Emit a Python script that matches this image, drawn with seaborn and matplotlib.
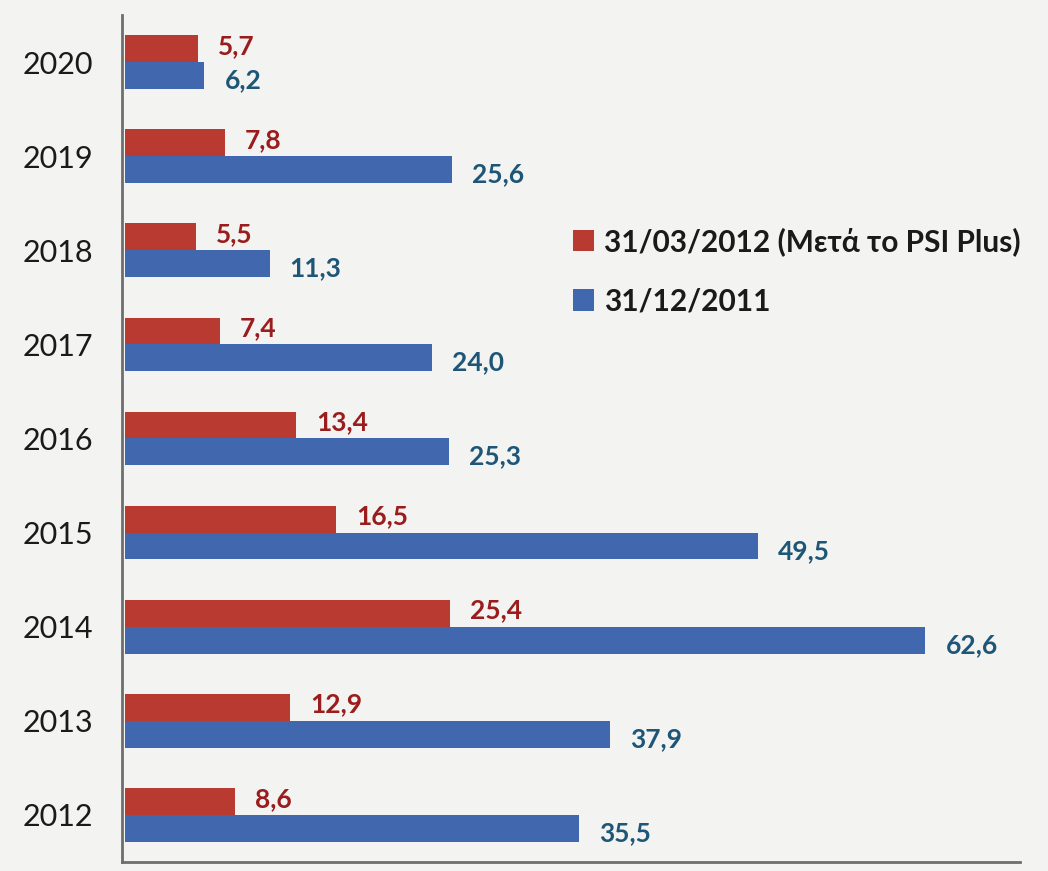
import matplotlib
matplotlib.use("Agg")
import matplotlib.pyplot as plt
from matplotlib.patches import Patch
import seaborn as sns
import pandas as pd

# Debt maturities by year (billion EUR), before and after the PSI Plus exchange
years = ["2020", "2019", "2018", "2017", "2016", "2015", "2014", "2013", "2012"]
after_psi = [5.7, 7.8, 5.5, 7.4, 13.4, 16.5, 25.4, 12.9, 8.6]
before_psi = [6.2, 25.6, 11.3, 24.0, 25.3, 49.5, 62.6, 37.9, 35.5]
series_names = ["31/03/2012 (Μετά το PSI Plus)", "31/12/2011"]

bar_colors = ["#b93a31", "#4168ae"]
label_colors = ["#9a1c1c", "#1e5678"]
bg = "#f3f3f1"

df = pd.DataFrame({
    "year": years * 2,
    "value": after_psi + before_psi,
    "series": [series_names[0]] * len(years) + [series_names[1]] * len(years),
})

sns.set_theme(style="white")
plt.rcParams["font.family"] = ["Lato", "DejaVu Sans"]

fig = plt.figure(figsize=(10.48, 8.71), dpi=100, facecolor=bg)
ax = fig.add_axes([122 / 1048, 1 - 862 / 871, (1020 - 122) / 1048, (862 - 15) / 871])
ax.set_facecolor(bg)

sns.barplot(data=df, x="value", y="year", hue="series", order=years,
            hue_order=series_names, palette=bar_colors, width=0.57,
            orient="h", saturation=1, linewidth=0, ax=ax, legend=False)

ax.set_xlim(-0.25, 70)
ax.set_ylim(8.5, -0.5)

# value labels next to each bar, with comma decimals
for container, color, dy in zip(ax.containers, label_colors, [-0.03, 0.05]):
    for bar in container:
        w = bar.get_width()
        yc = bar.get_y() + bar.get_height() / 2 + dy
        ax.annotate(f"{w:.1f}".replace(".", ","), xy=(w, yc), xytext=(20, 0),
                    textcoords="offset pixels", ha="left", va="center",
                    fontsize=19, fontweight="bold", color=color)

ax.set_xlabel("")
ax.set_ylabel("")
ax.set_xticks([])
ax.tick_params(axis="y", length=0, pad=21, labelsize=22, labelcolor="#1a1a1a")

for side in ["top", "right"]:
    ax.spines[side].set_visible(False)
for side in ["left", "bottom"]:
    ax.spines[side].set_color("#6e6e6e")
    ax.spines[side].set_linewidth(2)

handles = [Patch(facecolor=c, edgecolor="none") for c in bar_colors]
leg = fig.legend(handles, series_names, loc="upper left",
                 bbox_to_anchor=(573 / 1048, 1 - 227 / 871), frameon=False,
                 handlelength=0.7, handleheight=0.75, handletextpad=0.35,
                 labelspacing=1.05, borderpad=0, borderaxespad=0,
                 prop={"size": 21.5, "weight": "bold"})
for t in leg.get_texts():
    t.set_color("#1a1a1a")

fig.savefig("out.png", dpi=100, facecolor=bg)
